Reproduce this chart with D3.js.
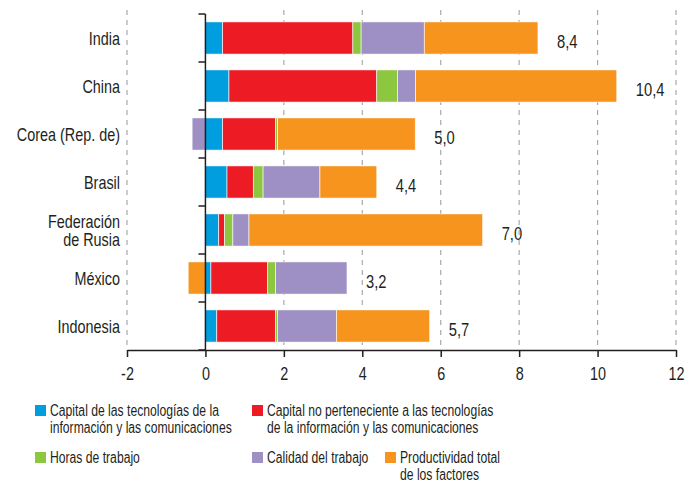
<!DOCTYPE html>
<html>
<head>
<meta charset="utf-8">
<script src="https://cdn.jsdelivr.net/npm/d3@7"></script>
<style>
  body { margin: 0; background: #fff; }
  svg text { font-family: "Liberation Sans", Arial, sans-serif; fill: #231f20; }
</style>
</head>
<body>
<div id="chart"></div>
<script>
"use strict";

var categories = ["India", "China", "Corea (Rep. de)", "Brasil", "Federación de Rusia", "México", "Indonesia"];
var ticCapital = [0.44, 0.60, 0.44, 0.55, 0.34, 0.14, 0.29];
var noTicCapital = [3.32, 3.77, 1.35, 0.67, 0.15, 1.44, 1.50];
var horasTrabajo = [0.21, 0.53, 0.05, 0.25, 0.21, 0.21, 0.05];
var calidadTrabajo = [1.61, 0.46, -0.34, 1.45, 0.41, 1.82, 1.50];
var productividad = [2.90, 5.13, 3.51, 1.45, 5.96, -0.44, 2.38];
var totalLabels = ["8,4", "10,4", "5,0", "4,4", "7,0", "3,2", "5,7"];
var xTicks = [-2, 0, 2, 4, 6, 8, 10, 12];

var seriesKeys = ["tic", "noTic", "horas", "calidad", "ptf"];
var seriesNames = [
    ["Capital de las tecnologías de la", "información y las comunicaciones"],
    ["Capital no perteneciente a las tecnologías", "de la información y las comunicaciones"],
    ["Horas de trabajo"],
    ["Calidad del trabajo"],
    ["Productividad total", "de los factores"]
];
var colors = ["#009ddf", "#ed1c24", "#8dc63f", "#9e8fc4", "#f7941d"];

// no condensed font is installed, so squeeze the text horizontally
function narrow(k) { return " scale(" + k + ",1)"; }

function drawChart()
{
    var w = 696;
    var h = 482;

    var table = categories.map(function(c, i) {
        return {
            country: c,
            tic: ticCapital[i],
            noTic: noTicCapital[i],
            horas: horasTrabajo[i],
            calidad: calidadTrabajo[i],
            ptf: productividad[i],
            label: totalLabels[i]
        };
    });

    var svg = d3.select("#chart")
                .append("svg")
                .attr("width", w)
                .attr("height", h);

    var x = d3.scaleLinear()
              .domain([-2, 12])
              .range([127, 676]);

    var y = d3.scaleBand()
              .domain(categories)
              .range([14, 350])
              .paddingInner(0.33)
              .paddingOuter(0.165);

    var color = d3.scaleOrdinal(seriesKeys, colors);

    // dashed grid lines
    svg.append("g")
        .selectAll("line")
        .data(xTicks.filter(function(t) { return t !== 0; }))
        .enter().append("line")
        .attr("x1", function(d) { return x(d); })
        .attr("x2", function(d) { return x(d); })
        .attr("y1", 10)
        .attr("y2", 350)
        .attr("stroke", "#a7a9ac")
        .attr("stroke-width", 1.2)
        .attr("stroke-dasharray", "5,5");

    var stack = d3.stack()
                  .keys(seriesKeys)
                  .offset(d3.stackOffsetDiverging);

    var layers = svg.append("g")
        .selectAll("g")
        .data(stack(table))
        .enter().append("g")
        .attr("fill", function(d) { return color(d.key); });

    layers.selectAll("rect")
        .data(function(d) { return d; })
        .enter().append("rect")
        .attr("x", function(d) { return x(Math.min(d[0], d[1])); })
        .attr("width", function(d) { return Math.abs(x(d[1]) - x(d[0])); })
        .attr("y", function(d) { return y(d.data.country); })
        .attr("height", y.bandwidth())
        .attr("stroke", "#fff")
        .attr("stroke-width", 0.6);

    // zero line with category ticks
    svg.append("line")
        .attr("x1", x(0)).attr("x2", x(0))
        .attr("y1", 14).attr("y2", 350)
        .attr("stroke", "#231f20")
        .attr("stroke-width", 1.5);

    var yAxis = d3.axisLeft(y).tickSize(7).tickFormat("");
    var yg = svg.append("g")
        .attr("transform", "translate(" + x(0) + ",0)")
        .call(yAxis);
    yg.select(".domain").remove();
    // ticks at band boundaries instead of band centres
    yg.selectAll(".tick")
        .attr("transform", function(d) { return "translate(0," + (y(d) - y.step() * y.paddingInner() / 2) + ")"; });
    yg.append("line")
        .attr("x1", -7).attr("x2", 0)
        .attr("y1", 350).attr("y2", 350)
        .attr("stroke", "#231f20");
    yg.selectAll("line").attr("stroke", "#231f20").attr("stroke-width", 1.5);

    // bottom axis
    var xAxis = d3.axisBottom(x).tickValues(xTicks).tickSize(7).tickSizeOuter(0).tickPadding(10)
                  .tickFormat(function(d) { return d; });
    var xg = svg.append("g")
        .attr("transform", "translate(0,350)")
        .call(xAxis);
    xg.attr("font-family", null);
    xg.select(".domain").attr("stroke", "#231f20").attr("stroke-width", 1.5);
    xg.selectAll("line").attr("stroke", "#231f20").attr("stroke-width", 1.5);
    xg.selectAll("text")
        .style("font-size", "18px")
        .attr("fill", "#231f20")
        .attr("transform", narrow(0.8));

    // category labels
    var cat = svg.append("g")
        .selectAll("text")
        .data(table)
        .enter().append("text")
        .attr("text-anchor", "end")
        .style("font-size", "18px")
        .attr("transform", function(d) {
            return "translate(120," + (y(d.country) + y.bandwidth() / 2) + ")" + narrow(0.8);
        });
    cat.each(function(d) {
        var parts = d.country === "Federación de Rusia" ? ["Federación", "de Rusia"] : [d.country];
        var t = d3.select(this);
        parts.forEach(function(p, i) {
            t.append("tspan")
                .attr("x", 0)
                .attr("y", (i - (parts.length - 1) / 2) * 17.5 + 7)
                .text(p);
        });
    });

    // total labels
    svg.append("g")
        .selectAll("text")
        .data(table)
        .enter().append("text")
        .attr("transform", function(d) {
            var end = 0;
            seriesKeys.forEach(function(k) { if (d[k] > 0) end += d[k]; });
            return "translate(" + (x(end) + 19) + "," + (y(d.country) + y.bandwidth() / 2 + 10) + ")" + narrow(0.82);
        })
        .style("font-size", "18px")
        .text(function(d) { return d.label; });

    // legend
    var legendPos = [[35, 405], [252, 405], [35, 452], [252, 452], [385, 452]];
    var legend = svg.selectAll(".legend")
        .data(seriesKeys)
        .enter().append("g")
        .attr("class", "legend")
        .attr("transform", function(d, i) {
            return "translate(" + legendPos[i][0] + "," + legendPos[i][1] + ")";
        });

    legend.append("rect")
        .attr("width", 11)
        .attr("height", 11)
        .attr("fill", function(d) { return color(d); });

    legend.append("text")
        .style("font-size", "16px")
        .attr("transform", "translate(15,0)" + narrow(0.76))
        .each(function(d, i) {
            var t = d3.select(this);
            seriesNames[i].forEach(function(line, j) {
                t.append("tspan")
                    .attr("x", 0)
                    .attr("y", 11 + j * 17.5)
                    .text(line);
            });
        });
}

window.addEventListener("load", function() {
    drawChart();
});
</script>
</body>
</html>
